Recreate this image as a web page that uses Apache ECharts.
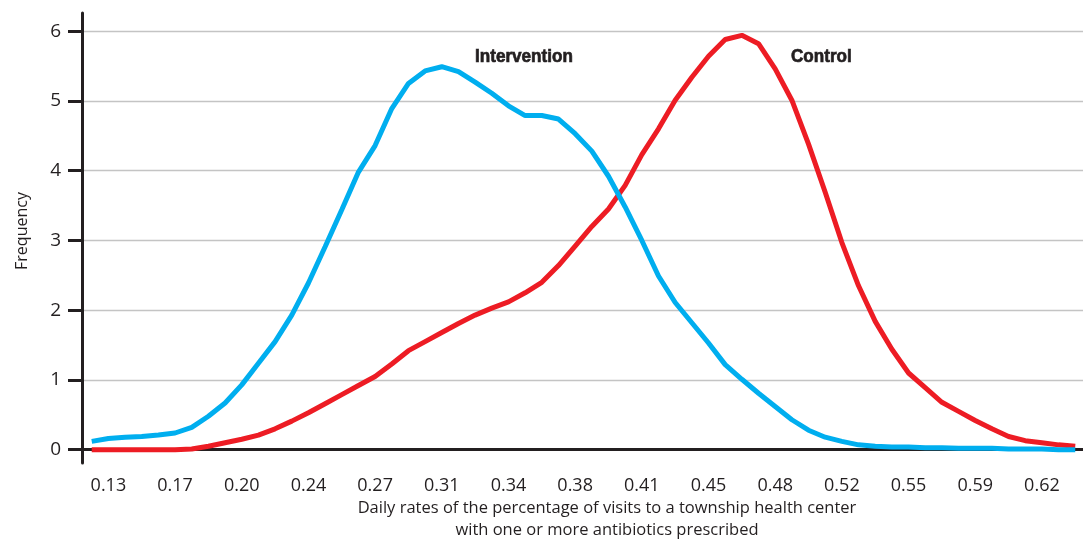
<!DOCTYPE html>
<html>
<head>
<meta charset="utf-8">
<script src="https://cdn.jsdelivr.net/npm/echarts@6/dist/echarts.min.js"></script>
<style>
html,body{margin:0;padding:0;background:#fff;}
#chart{width:1083px;height:540px;}
</style>
</head>
<body>
<div id="chart"></div>
<script>
// x positions of the data points (daily rate)
const xValues = [0.12125,0.13,0.13875,0.1475,0.15625,0.165,0.17375,0.1825,0.19125,0.2,
  0.20875,0.2175,0.22625,0.235,0.24375,0.2525,0.26125,0.27,0.27875,0.2875,
  0.29625,0.305,0.31375,0.3225,0.33125,0.34,0.34875,0.3575,0.36625,0.375,
  0.38375,0.3925,0.40125,0.41,0.41875,0.4275,0.43625,0.445,0.45375,0.4625,
  0.47125,0.48,0.48875,0.4975,0.50625,0.515,0.52375,0.5325,0.54125,0.55,
  0.55875,0.5675,0.57625,0.585,0.59375,0.6025,0.61125,0.62,0.62875,0.6375];

const interventionValues = [0.12,0.16,0.18,0.19,0.21,0.24,0.32,0.48,0.67,0.93,
  1.24,1.55,1.93,2.39,2.91,3.44,3.98,4.36,4.89,5.25,
  5.43,5.49,5.42,5.27,5.11,4.93,4.79,4.79,4.74,4.53,
  4.28,3.92,3.48,3.00,2.49,2.11,1.82,1.53,1.22,1.01,
  0.81,0.62,0.43,0.28,0.18,0.12,0.07,0.05,0.04,0.04,
  0.03,0.03,0.02,0.02,0.02,0.01,0.01,0.01,0.0,0.0];

const controlValues = [0.0,0.0,0.0,0.0,0.0,0.0,0.01,0.05,0.10,0.15,
  0.21,0.30,0.41,0.53,0.66,0.79,0.92,1.05,1.23,1.42,
  1.55,1.68,1.81,1.93,2.03,2.12,2.25,2.40,2.64,2.92,
  3.20,3.45,3.79,4.23,4.60,5.01,5.34,5.64,5.88,5.94,
  5.82,5.46,5.01,4.38,3.69,2.97,2.35,1.84,1.44,1.10,
  0.89,0.68,0.55,0.42,0.30,0.19,0.13,0.10,0.07,0.05];

const xTicks = [0.13,0.165,0.2,0.235,0.27,0.305,0.34,0.375,0.41,0.445,0.48,0.515,0.55,0.585,0.62];
const xTickLabels = ["0.13","0.17","0.20","0.24","0.27","0.31","0.34","0.38","0.41","0.45","0.48","0.52","0.55","0.59","0.62"];
const yTicks = [0,1,2,3,4,5,6];

const seriesNames = ["Control","Intervention"];
const xTitle = ["Daily rates of the percentage of visits to a township health center","with one or more antibiotics prescribed"];
const yTitle = "Frequency";

const dark = '#231f20';
const font = '"Open Sans", "Noto Sans", sans-serif';
const boldFont = 'bold 19px "Liberation Sans", Arial, sans-serif';

const chart = echarts.init(document.getElementById('chart'), null, {renderer:'canvas'});
chart.setOption({
  animation: false,
  backgroundColor: '#ffffff',
  grid: {left: 82, right: 0, top: 13, bottom: 77, containLabel: false},
  xAxis: {
    type: 'value',
    min: 0.11614,
    max: 0.64157,
    axisLine: {show: true, onZero: true, lineStyle: {color: dark, width: 3}},
    axisTick: {show: false},
    splitLine: {show: false},
    axisLabel: {
      customValues: xTicks,
      margin: 14,
      fontFamily: font, fontSize: 18, fontWeight: 400, color: dark,
      formatter: function (v) {
        const i = xTicks.findIndex(t => Math.abs(t - v) < 1e-6);
        return i >= 0 ? xTickLabels[i] : '';
      }
    }
  },
  yAxis: {
    type: 'value',
    min: -0.19,
    max: 6.26,
    axisLine: {show: true, lineStyle: {color: dark, width: 3}},
    axisTick: {show: true, customValues: yTicks, length: 14, lineStyle: {color: dark, width: 3}},
    axisLabel: {customValues: yTicks, margin: 21, fontFamily: font, fontSize: 19, fontWeight: 400, color: dark},
    splitLine: {show: true, lineStyle: {color: '#c4c4c4', width: 1.3}}
  },
  series: [
    {
      name: seriesNames[0], type: 'line', symbol: 'none',
      data: xValues.map((x, i) => [x, controlValues[i]]),
      lineStyle: {color: '#ed1c24', width: 5}
    },
    {
      name: seriesNames[1], type: 'line', symbol: 'none',
      data: xValues.map((x, i) => [x, interventionValues[i]]),
      lineStyle: {color: '#00aeef', width: 5}
    }
  ],
  graphic: [
    {type: 'text', x: 475, y: 57, scaleX: 0.9, style: {text: seriesNames[1], font: boldFont, fill: dark, stroke: dark, lineWidth: 0.7, align: 'left', verticalAlign: 'middle'}},
    {type: 'text', x: 791, y: 57, scaleX: 0.9, style: {text: seriesNames[0], font: boldFont, fill: dark, stroke: dark, lineWidth: 0.7, align: 'left', verticalAlign: 'middle'}},
    {type: 'text', x: 22, y: 231, rotation: Math.PI / 2, style: {text: yTitle, font: '400 16px ' + font, fill: dark, align: 'center', verticalAlign: 'middle'}},
    {type: 'text', x: 607, y: 508, style: {text: xTitle[0], font: '400 16.5px ' + font, fill: dark, align: 'center', verticalAlign: 'middle'}},
    {type: 'text', x: 607, y: 530, style: {text: xTitle[1], font: '400 16.5px ' + font, fill: dark, align: 'center', verticalAlign: 'middle'}}
  ]
});
</script>
</body>
</html>
